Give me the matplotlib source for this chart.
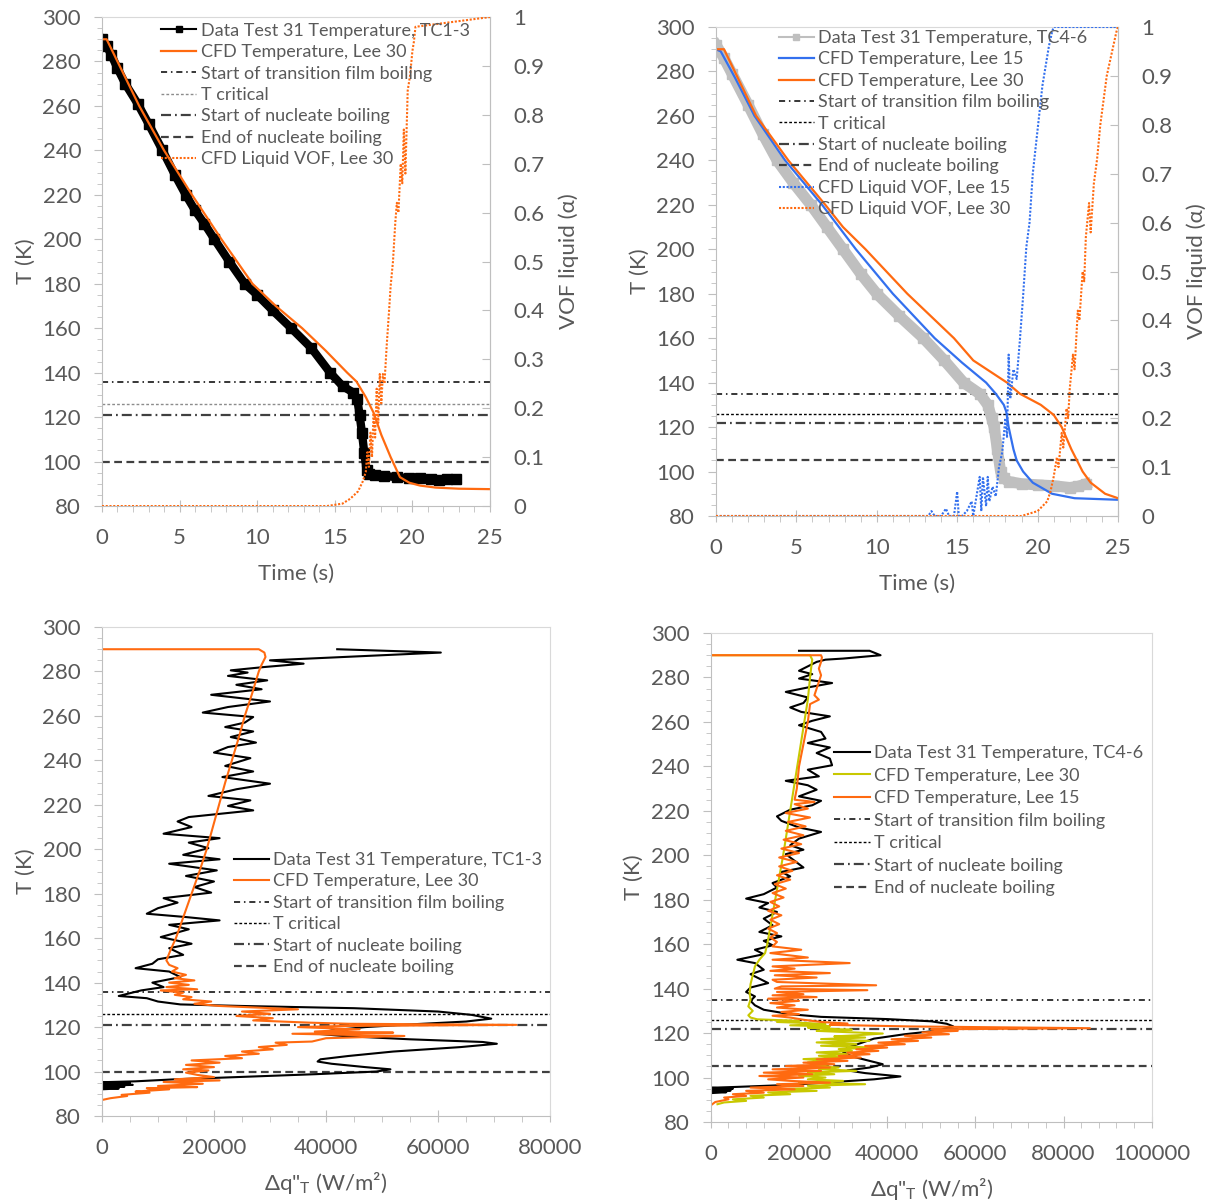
import matplotlib
matplotlib.use("Agg")
import matplotlib.pyplot as plt
from matplotlib.lines import Line2D
from matplotlib.ticker import MultipleLocator, FuncFormatter

plt.rcParams['font.family'] = ['Lato', 'DejaVu Sans']

# ---------------- data: top left (Test 31, TC1-3) ----------------
tl_data_t = [0, 0.3, 0.6, 1.0, 1.5, 2.3, 3.0, 3.9, 4.7, 5.4, 6.0, 6.6, 7.25, 8.2, 9.2, 10.0,
             11.0, 12.2, 13.5, 14.7, 15.5, 16.2, 16.45, 16.6, 16.75, 16.9, 17.05, 17.2, 17.6,
             18.2, 19.0, 19.8, 20.5, 21.2, 21.7, 22.2, 22.8]
tl_data_T = [290, 287, 283, 277, 270, 261, 252, 240, 229, 220, 213, 207, 200, 190, 180, 175,
             168, 160, 151, 140, 134, 131, 128, 121, 113, 104, 96, 94.5, 94, 93.5, 93, 92.5,
             92.5, 92, 91.5, 92, 92]
tl_cfd_t = [0, 0.3, 1, 2.4, 4.0, 5.8, 7.7, 9.7, 11.2, 12.9, 14.4, 15.8, 16.4, 17.0, 17.5,
            18.0, 18.6, 19.2, 19.8, 20.5, 21.5, 23, 25]
tl_cfd_T = [290, 290, 280, 260, 240, 220, 200, 180, 170, 160, 150, 140, 136, 129, 122,
            112, 102, 93, 90.5, 89.2, 88.3, 87.8, 87.6]
tl_vof_t = [0, 14.5, 15.5, 16.0, 16.5, 16.8, 17.0, 17.1, 17.2, 17.3, 17.4, 17.5, 17.6, 17.7,
            17.8, 17.9, 18.0, 18.1, 18.2, 18.35, 18.5, 18.6, 18.75, 18.9, 19.0, 19.1, 19.25,
            19.35, 19.45, 19.55, 19.7, 19.85, 20.0, 20.1, 20.2, 25]
tl_vof = [0, 0, 0.005, 0.015, 0.03, 0.05, 0.07, 0.11, 0.08, 0.15, 0.10, 0.19, 0.14, 0.24,
          0.17, 0.27, 0.21, 0.27, 0.25, 0.33, 0.40, 0.45, 0.50, 0.58, 0.62, 0.60, 0.70,
          0.66, 0.77, 0.68, 0.85, 0.88, 0.93, 0.95, 0.98, 1.0]
tl_levels = [136, 126, 121, 100]

# ---------------- data: top right (Test 31, TC4-6) ----------------
tr_data_t = [0, 0.5, 1.0, 2.0, 2.9, 3.8, 4.8, 5.9, 6.9, 7.9, 9.0, 10.0, 11.4, 12.9, 14.2,
             15.4, 16.4, 16.9, 17.15, 17.3, 17.5, 17.7, 17.9, 18.2, 19.0, 20.0, 21.0, 22.0,
             22.5, 23.0]
tr_data_T = [292, 286, 279, 265, 252, 240, 230, 220, 210, 200, 189, 180, 170, 160, 150,
             140, 135, 130, 124, 120, 110, 100, 97, 95.5, 94.5, 94, 93.6, 92.8, 93.3, 94.4]
tr_lee15_t = [0, 0.3, 1.2, 2.4, 4.3, 6.6, 8.7, 11.0, 13.6, 15.3, 16.8, 17.4, 17.9, 18.05,
              18.2, 18.5, 18.7, 19.1, 19.7, 20.9, 22.3, 25]
tr_lee15_T = [290, 289, 277, 260, 240, 220, 200, 180, 160, 149, 140, 135, 130, 127,
              120, 110, 105, 100, 95, 90, 88, 87.3]
tr_lee30_t = [0, 0.5, 2.5, 4.5, 6.8, 7.9, 9.3, 11.9, 14.8, 16.0, 18.1, 18.9, 20.2, 21.0,
              21.5, 22.1, 22.8, 23.3, 24.2, 25]
tr_lee30_T = [290, 290, 260, 240, 220, 210, 200, 180, 160, 150, 140, 135, 130, 125.5,
              120, 110, 100, 95, 90, 88]
tr_vof15_t = [0, 13.2, 13.4, 13.6, 14.0, 14.3, 14.5, 14.8, 15.0, 15.1, 15.3, 15.6, 15.9,
              16.0, 16.2, 16.4, 16.5, 16.6, 16.8, 16.9, 17.0, 17.2, 17.4, 17.6, 17.8, 18.0,
              18.1, 18.2, 18.3, 18.5, 18.7, 18.9, 19.1, 19.3, 19.5, 19.7, 19.9, 20.1, 20.3,
              20.5, 20.7, 20.9, 21.0, 25]
tr_vof15 = [0, 0, 0.01, 0, 0, 0.015, 0, 0, 0.05, 0, 0, 0.01, 0.03, 0, 0.04, 0.08, 0.01,
            0.08, 0.02, 0.08, 0.03, 0.06, 0.04, 0.1, 0.13, 0.2, 0.16, 0.33, 0.24, 0.3, 0.28,
            0.36, 0.45, 0.55, 0.6, 0.7, 0.76, 0.82, 0.88, 0.92, 0.96, 0.99, 1.0, 1.0]
tr_vof30_t = [0, 19.0, 19.5, 20.0, 20.3, 20.6, 20.8, 21.0, 21.2, 21.3, 21.5, 21.6, 21.8,
              21.9, 22.0, 22.2, 22.3, 22.5, 22.6, 22.8, 22.9, 23.0, 23.2, 23.3, 23.5, 23.7,
              23.9, 24.1, 24.3, 24.5, 24.7, 24.9, 25]
tr_vof30 = [0, 0, 0.005, 0.01, 0.02, 0.03, 0.05, 0.08, 0.12, 0.1, 0.17, 0.14, 0.22, 0.2,
            0.26, 0.33, 0.3, 0.42, 0.4, 0.5, 0.48, 0.57, 0.64, 0.58, 0.68, 0.73, 0.8, 0.85,
            0.9, 0.93, 0.96, 0.99, 1.0]
tr_levels = [135, 126, 122, 105]

# ---------------- data: bottom left, (heat flux, T) ----------------
bl_data = [(42000, 290), (60500, 288.5), (30000, 285), (36000, 283.5), (29000, 282),
           (23000, 280.5), (26000, 279.5), (22500, 278), (29500, 276), (24000, 274),
           (28500, 272), (19500, 269.5), (30000, 266.5), (22500, 264), (18000, 261.5),
           (27000, 259.5), (25500, 257), (22000, 255), (27000, 253), (23000, 250.5),
           (27500, 248), (22500, 246), (20000, 243.5), (26500, 241), (22000, 237.5),
           (27000, 235), (21500, 232.5), (30000, 229.5), (24000, 227), (19000, 224),
           (26500, 222), (22500, 219.5), (27000, 217.5), (15500, 214.5), (13500, 212.5),
           (16000, 210), (11000, 207), (21000, 205), (15500, 203), (19000, 200.5),
           (14500, 197.5), (21000, 195.5), (12000, 193.5), (20500, 190.5), (15000, 188),
           (20000, 185.5), (16500, 183), (19500, 180.5), (11000, 178), (13500, 176),
           (10000, 173.5), (8000, 171), (15000, 169.5), (21000, 168), (12000, 166),
           (15500, 164), (10500, 160.5), (16000, 157.5), (12000, 155.5), (14500, 152.5),
           (10000, 150.5), (9000, 148.5), (6000, 146.5), (12000, 145), (14000, 142.5),
           (9000, 140), (11000, 138), (7000, 136.5), (3000, 134), (8000, 133),
           (10000, 131.5), (14000, 130.2), (25000, 129.5), (45000, 128.5), (60000, 127),
           (66000, 125.5), (69500, 123.8), (65000, 122.5), (55000, 121.2), (47000, 120),
           (41000, 118.5), (38500, 117), (43000, 116), (55000, 114.5), (68000, 113.3),
           (70500, 112.5), (64000, 111), (52000, 109), (44000, 107), (39000, 105.5),
           (38500, 104.5), (41000, 103.5), (47000, 102), (51500, 101), (49000, 100),
           (38000, 98.8), (24000, 97.5), (13000, 96.5), (6000, 95.6), (0, 95.2),
           (5000, 94.8), (0, 94.4), (5500, 94), (0, 93.6), (4000, 93.2), (0, 92.8),
           (3000, 92.4), (0, 92)]
bl_cfd = [(0, 290), (28000, 290), (29000, 288.5), (29200, 286.5), (28500, 283), (28000, 280),
          (26800, 270), (25500, 260), (24400, 250), (23200, 240), (22000, 230), (20900, 220),
          (19800, 210), (18700, 200), (17400, 190), (16000, 180), (14600, 170), (13200, 160),
          (12300, 155), (11500, 150), (12000, 148), (13500, 146.5), (12500, 145),
          (15000, 143.5), (13000, 142), (16500, 141), (12000, 140), (15500, 139),
          (11500, 138), (17000, 137), (10500, 136.5), (14500, 135.5), (13000, 134.5),
          (16000, 133.5), (14500, 132.5), (19500, 131.5), (16500, 130.5), (21000, 129.5),
          (35000, 128), (25000, 127), (30000, 126), (24000, 125), (30500, 124), (27000, 123),
          (37000, 122), (44000, 121.5), (74000, 121), (43000, 120.5), (35000, 120),
          (46000, 119), (38000, 118), (52000, 117.5), (34000, 117), (54000, 116),
          (40000, 115), (37500, 113.5), (31000, 113), (33000, 112), (28000, 111),
          (30500, 110), (25000, 109), (28000, 108), (22000, 107), (25000, 106), (16000, 105),
          (21000, 104), (15000, 103), (20000, 102), (14500, 101), (19000, 100.5),
          (15000, 99.5), (17000, 98.5), (20000, 97.5), (13000, 96.5), (21000, 96),
          (11000, 95.3), (18000, 94.5), (10000, 93.5), (17000, 93), (8000, 92.5),
          (12000, 92), (6000, 91), (8500, 90.5), (3500, 89.5), (4500, 89), (1500, 88),
          (0, 87.2)]

# ---------------- data: bottom right, (heat flux, T) ----------------
br_data = [(20000, 292), (36000, 292), (38500, 290), (30000, 288.5), (26000, 288),
           (24000, 287), (22000, 285), (20000, 283), (23000, 281.5), (20000, 279.5),
           (27500, 277.5), (22000, 275.5), (17000, 273.5), (22000, 271), (21000, 268.5),
           (18000, 266.5), (20500, 264.5), (27000, 262.5), (23000, 260.5), (20000, 258.5),
           (25000, 255.5), (26000, 252.5), (22000, 250.5), (27000, 248.5), (24000, 246),
           (27000, 243.5), (27500, 240.5), (22000, 238.5), (24500, 235.5), (17000, 233.5),
           (22000, 231.5), (24000, 229.5), (20000, 226.5), (25000, 224.5), (23000, 222.5),
           (18000, 220.5), (15000, 217.5), (16000, 215.5), (20000, 212.5), (25000, 210.5),
           (20000, 207.5), (18000, 204.5), (21000, 202.5), (17000, 200.5), (19000, 197.5),
           (21000, 194.5), (16000, 192.5), (18000, 190.5), (14000, 187.5), (15000, 185.5),
           (12000, 182.5), (8000, 180.5), (13000, 178.5), (11000, 176.5), (15000, 174.5),
           (12000, 171.5), (14000, 168.5), (11000, 165.5), (16000, 163.5), (12000, 161.5),
           (14000, 159.5), (10000, 157.5), (12000, 155.5), (6000, 153), (10000, 151.5),
           (12000, 148.5), (9000, 146.5), (11000, 144.5), (13000, 142.5), (9000, 140.5),
           (8000, 138.5), (10000, 136.5), (9000, 134.5), (10000, 132.5), (12000, 130.5),
           (18000, 128.5), (25000, 127.3), (40000, 126.3), (50000, 125.3), (53500, 124.2),
           (55000, 123), (51000, 121), (44000, 119.5), (37000, 117.5), (34000, 115.5),
           (31000, 113.5), (30000, 111.5), (32000, 109.5), (36000, 107.5), (39000, 106),
           (36000, 104.5), (31000, 103.2), (35000, 102), (43000, 100.5), (37000, 99.2),
           (28000, 98), (18000, 96.7), (6000, 95.8), (0, 95.4), (5000, 95), (0, 94.6),
           (4500, 94.2), (0, 93.8), (3500, 93.4), (0, 93)]
br_lee30 = [(0, 290), (22500, 290), (23000, 288), (22800, 285), (22500, 280), (22000, 270),
            (21200, 260), (20400, 250), (19600, 240), (18800, 230), (18000, 220),
            (17200, 210), (16400, 200), (15500, 190), (14600, 180), (13700, 170),
            (12800, 160), (12300, 156), (11000, 153), (10000, 150), (9500, 146), (9000, 142),
            (8800, 138), (9000, 135), (8500, 132), (9500, 130), (8500, 128), (9000, 127),
            (10500, 126.2), (20000, 125.5), (15000, 125), (22000, 124.5), (26000, 124),
            (18000, 123.5), (27000, 123), (22000, 122.5), (26000, 122), (32000, 121.5),
            (24000, 121), (30000, 120.5), (39000, 119.8), (33000, 119), (28000, 118.5),
            (35000, 118), (25000, 117.3), (36000, 116.5), (24000, 115.8), (33000, 115),
            (25000, 114.3), (37000, 113.5), (29000, 112.8), (32000, 112), (24000, 111.3),
            (31000, 110.5), (24500, 109.8), (30000, 109), (21000, 108.3), (26000, 107.5),
            (22000, 106.8), (27000, 106), (23000, 105.2), (29000, 104.5), (24500, 103.8),
            (33000, 103), (22000, 102.3), (28000, 101.5), (20000, 100.8), (26000, 100),
            (22000, 99.2), (30000, 98.5), (20000, 97.8), (35000, 97), (22000, 96.3),
            (27000, 95.5), (16000, 94.8), (24000, 94), (13000, 93.3), (18000, 92.5),
            (9000, 91.8), (12000, 91), (5000, 90.2), (8000, 89.5), (3000, 88.8), (1500, 88)]
br_lee15 = [(0, 290), (25000, 290), (25200, 289), (25000, 287), (24500, 284), (25000, 281),
            (24500, 278), (24000, 275), (23500, 272), (24500, 270), (22500, 268),
            (22000, 260), (21000, 250), (20000, 240), (19500, 230), (19000, 225),
            (23500, 224), (19000, 223), (22000, 221), (17000, 219), (22500, 217),
            (17500, 215), (21500, 213), (17000, 211), (21000, 209), (16500, 207),
            (20500, 205), (16000, 203), (20000, 201), (15500, 199), (19500, 197),
            (15500, 195), (18500, 193), (15000, 191), (18000, 189), (14500, 187),
            (17000, 185), (14000, 183), (16500, 181), (13500, 179), (15500, 177),
            (13000, 175), (16000, 173), (13500, 171), (15500, 169), (13000, 167),
            (15000, 165), (13500, 163), (15000, 161), (14000, 159), (20500, 157.5),
            (13500, 156), (22000, 154), (14000, 153), (31500, 151.5), (14000, 150),
            (19000, 149), (13500, 148), (27000, 147), (14500, 146), (24000, 145),
            (14000, 144), (15000, 143), (37500, 141.5), (16000, 141), (14500, 140),
            (35500, 139.3), (15000, 138.5), (21000, 137.5), (14000, 137), (24000, 136.2),
            (13000, 135.5), (20000, 134.5), (13500, 133.5), (19000, 132.5), (15000, 131.5),
            (22000, 130.5), (16000, 129.5), (20000, 128.5), (14000, 127.8), (18000, 127),
            (21000, 126), (25000, 125), (31000, 124.3), (27000, 123.7), (45000, 123),
            (86000, 122.2), (50000, 121.7), (56000, 121), (48000, 120.3), (54000, 119.5),
            (44000, 118.8), (50000, 118), (41000, 117.2), (47000, 116.5), (38000, 115.7),
            (44000, 115), (35000, 114.2), (40000, 113.5), (33000, 112.7), (38000, 112),
            (31000, 111.2), (36000, 110.5), (29000, 109.7), (34000, 109), (24000, 108.2),
            (31000, 107.5), (21000, 106.7), (28000, 106), (17000, 105.2), (27000, 104.5),
            (14000, 103.7), (25000, 103), (12000, 102.2), (23000, 101.5), (11000, 100.7),
            (21000, 100), (13000, 99.2), (18000, 98.5), (27000, 97.7), (15000, 97),
            (21000, 96.2), (9000, 95.5), (19000, 94.7), (8000, 94), (12000, 93.2),
            (5000, 92.5), (8000, 91.7), (3000, 91), (4000, 90.2), (1000, 89), (0, 87.5)]

level_names = ["Start of transition film boiling", "T critical",
               "Start of nucleate boiling", "End of nucleate boiling"]

TXT = '#595959'
AXC = '#bfbfbf'
ORANGE = '#ff6a10'
BLUE = '#3370ee'
OLIVE = '#c8c800'
FS = 16
fmt = FuncFormatter(lambda v, p: '{:g}'.format(round(v, 3)))


def style_axes(ax, xmax, xmajor, xminor):
    ax.set_xlim(0, xmax)
    ax.set_ylim(80, 300)
    ax.xaxis.set_major_locator(MultipleLocator(xmajor))
    ax.xaxis.set_minor_locator(MultipleLocator(xminor))
    ax.yaxis.set_major_locator(MultipleLocator(20))
    ax.yaxis.set_minor_locator(MultipleLocator(5))
    ax.xaxis.set_major_formatter(fmt)
    for s in ax.spines.values():
        s.set_color('#d9d9d9')
    ax.spines['left'].set_color(AXC)
    ax.spines['bottom'].set_color(AXC)
    ax.tick_params(axis='y', which='major', direction='out', length=6, color=AXC,
                   labelsize=FS, labelcolor=TXT, pad=9)
    ax.tick_params(axis='y', which='minor', direction='out', length=3.5, color=AXC)
    ax.tick_params(axis='x', which='major', direction='inout', length=9, color=AXC,
                   labelsize=FS, labelcolor=TXT, pad=11)
    ax.tick_params(axis='x', which='minor', direction='out', length=4, color=AXC)
    ax.set_ylabel('T (K)', fontsize=FS, color=TXT, labelpad=5)


def style_vof(axr):
    axr.set_ylim(0, 1)
    axr.yaxis.set_major_locator(MultipleLocator(0.1))
    axr.yaxis.set_major_formatter(fmt)
    for s in axr.spines.values():
        s.set_visible(False)
    axr.spines['right'].set_visible(True)
    axr.spines['right'].set_color(AXC)
    axr.tick_params(axis='y', direction='in', length=6, color=AXC, labelsize=FS,
                    labelcolor=TXT, pad=17)
    axr.set_ylabel('VOF liquid (α)', fontsize=FS, color=TXT, labelpad=10)


def add_levels(ax, levels, crit_color):
    styles = [dict(color='black', lw=1.1, ls=(0, (4, 2.5, 1, 2.5))),
              dict(color=crit_color, lw=1.0, ls=(0, (2, 1.5))),
              dict(color='#404040', lw=1.6, ls=(0, (4.5, 1.8, 0.8, 1.8))),
              dict(color='#404040', lw=1.6, ls=(0, (3.5, 2)))]
    out = []
    for y, name, st in zip(levels, level_names, styles):
        out.append(ax.axhline(y, label=name, **st))
    return out


def add_legend(ax, handles, x, y, spacing=0.3):
    fig = ax.figure
    ax.legend(handles=handles, loc='upper left', bbox_to_anchor=(x, y),
              bbox_transform=fig.transFigure, frameon=False, borderpad=0,
              borderaxespad=0, handlelength=1.95, handletextpad=0.25, labelspacing=spacing,
              fontsize=13, labelcolor=TXT)


fig = plt.figure(figsize=(12.11, 12.0), dpi=100)

# ---------- top left ----------
ax1 = fig.add_axes([0.0842, 0.5783, 0.3204, 0.4075])
style_axes(ax1, 25, 5, 1)
ax1.set_xlabel('Time (s)', fontsize=FS, color=TXT, labelpad=12)
lv1 = add_levels(ax1, tl_levels, '#8c8c8c')
ax1.plot(tl_data_t, tl_data_T, color='black', lw=6, marker='s', ms=7)
c1, = ax1.plot(tl_cfd_t, tl_cfd_T, color=ORANGE, lw=1.6, label='CFD Temperature, Lee 30')
ax1r = ax1.twinx()
style_vof(ax1r)
v1, = ax1r.plot(tl_vof_t, tl_vof, color=ORANGE, lw=1.5, ls=(0, (1, 0.8)),
                label='CFD Liquid VOF, Lee 30')
d1 = Line2D([], [], color='black', lw=1.5, marker='s', ms=5,
            label='Data Test 31 Temperature, TC1-3')
add_legend(ax1r, [d1, c1] + lv1 + [v1], 0.133, 0.981)

# ---------- top right ----------
ax2 = fig.add_axes([0.5912, 0.570, 0.332, 0.4075])
style_axes(ax2, 25, 5, 1)
ax2.set_xlabel('Time (s)', fontsize=FS, color=TXT, labelpad=12)
lv2 = add_levels(ax2, tr_levels, 'black')
ax2.plot(tr_data_t, tr_data_T, color='#bfbfbf', lw=8, marker='s', ms=7)
c2a, = ax2.plot(tr_lee15_t, tr_lee15_T, color=BLUE, lw=1.6, label='CFD Temperature, Lee 15')
c2b, = ax2.plot(tr_lee30_t, tr_lee30_T, color=ORANGE, lw=1.6, label='CFD Temperature, Lee 30')
ax2r = ax2.twinx()
style_vof(ax2r)
v2a, = ax2r.plot(tr_vof15_t, tr_vof15, color=BLUE, lw=1.5, ls=(0, (1, 0.8)),
                 label='CFD Liquid VOF, Lee 15')
v2b, = ax2r.plot(tr_vof30_t, tr_vof30, color=ORANGE, lw=1.5, ls=(0, (1, 0.8)),
                 label='CFD Liquid VOF, Lee 30')
d2 = Line2D([], [], color='#bfbfbf', lw=1.5, marker='s', ms=5,
            label='Data Test 31 Temperature, TC4-6')
add_legend(ax2r, [d2, c2a, c2b] + lv2 + [v2a, v2b], 0.643, 0.975)

# ---------- bottom left ----------
ax3 = fig.add_axes([0.0842, 0.070, 0.370, 0.4075])
style_axes(ax3, 80000, 20000, 5000)
ax3.set_xlabel('Δq"$_\\mathregular{T}$ (W/m²)', fontsize=FS, color=TXT, labelpad=9)
lv3 = add_levels(ax3, tl_levels, 'black')
q, T = zip(*bl_data)
d3, = ax3.plot(q, T, color='black', lw=1.5, label='Data Test 31 Temperature, TC1-3')
q, T = zip(*bl_cfd)
c3, = ax3.plot(q, T, color=ORANGE, lw=1.5, label='CFD Temperature, Lee 30')
add_legend(ax3, [d3, c3] + lv3, 0.193, 0.290)

# ---------- bottom right ----------
ax4 = fig.add_axes([0.587, 0.065, 0.364, 0.4075])
style_axes(ax4, 100000, 20000, 4000)
ax4.set_xlabel('Δq"$_\\mathregular{T}$ (W/m²)', fontsize=FS, color=TXT, labelpad=9)
lv4 = add_levels(ax4, tr_levels, 'black')
q, T = zip(*br_data)
d4, = ax4.plot(q, T, color='black', lw=1.5, label='Data Test 31 Temperature, TC4-6')
q, T = zip(*br_lee30)
c4a, = ax4.plot(q, T, color=OLIVE, lw=1.5, label='CFD Temperature, Lee 30')
q, T = zip(*br_lee15)
c4b, = ax4.plot(q, T, color=ORANGE, lw=1.5, label='CFD Temperature, Lee 15')
add_legend(ax4, [d4, c4a, c4b] + lv4, 0.689, 0.379, spacing=0.36)

fig.savefig('out.png', dpi=100, facecolor='white')
